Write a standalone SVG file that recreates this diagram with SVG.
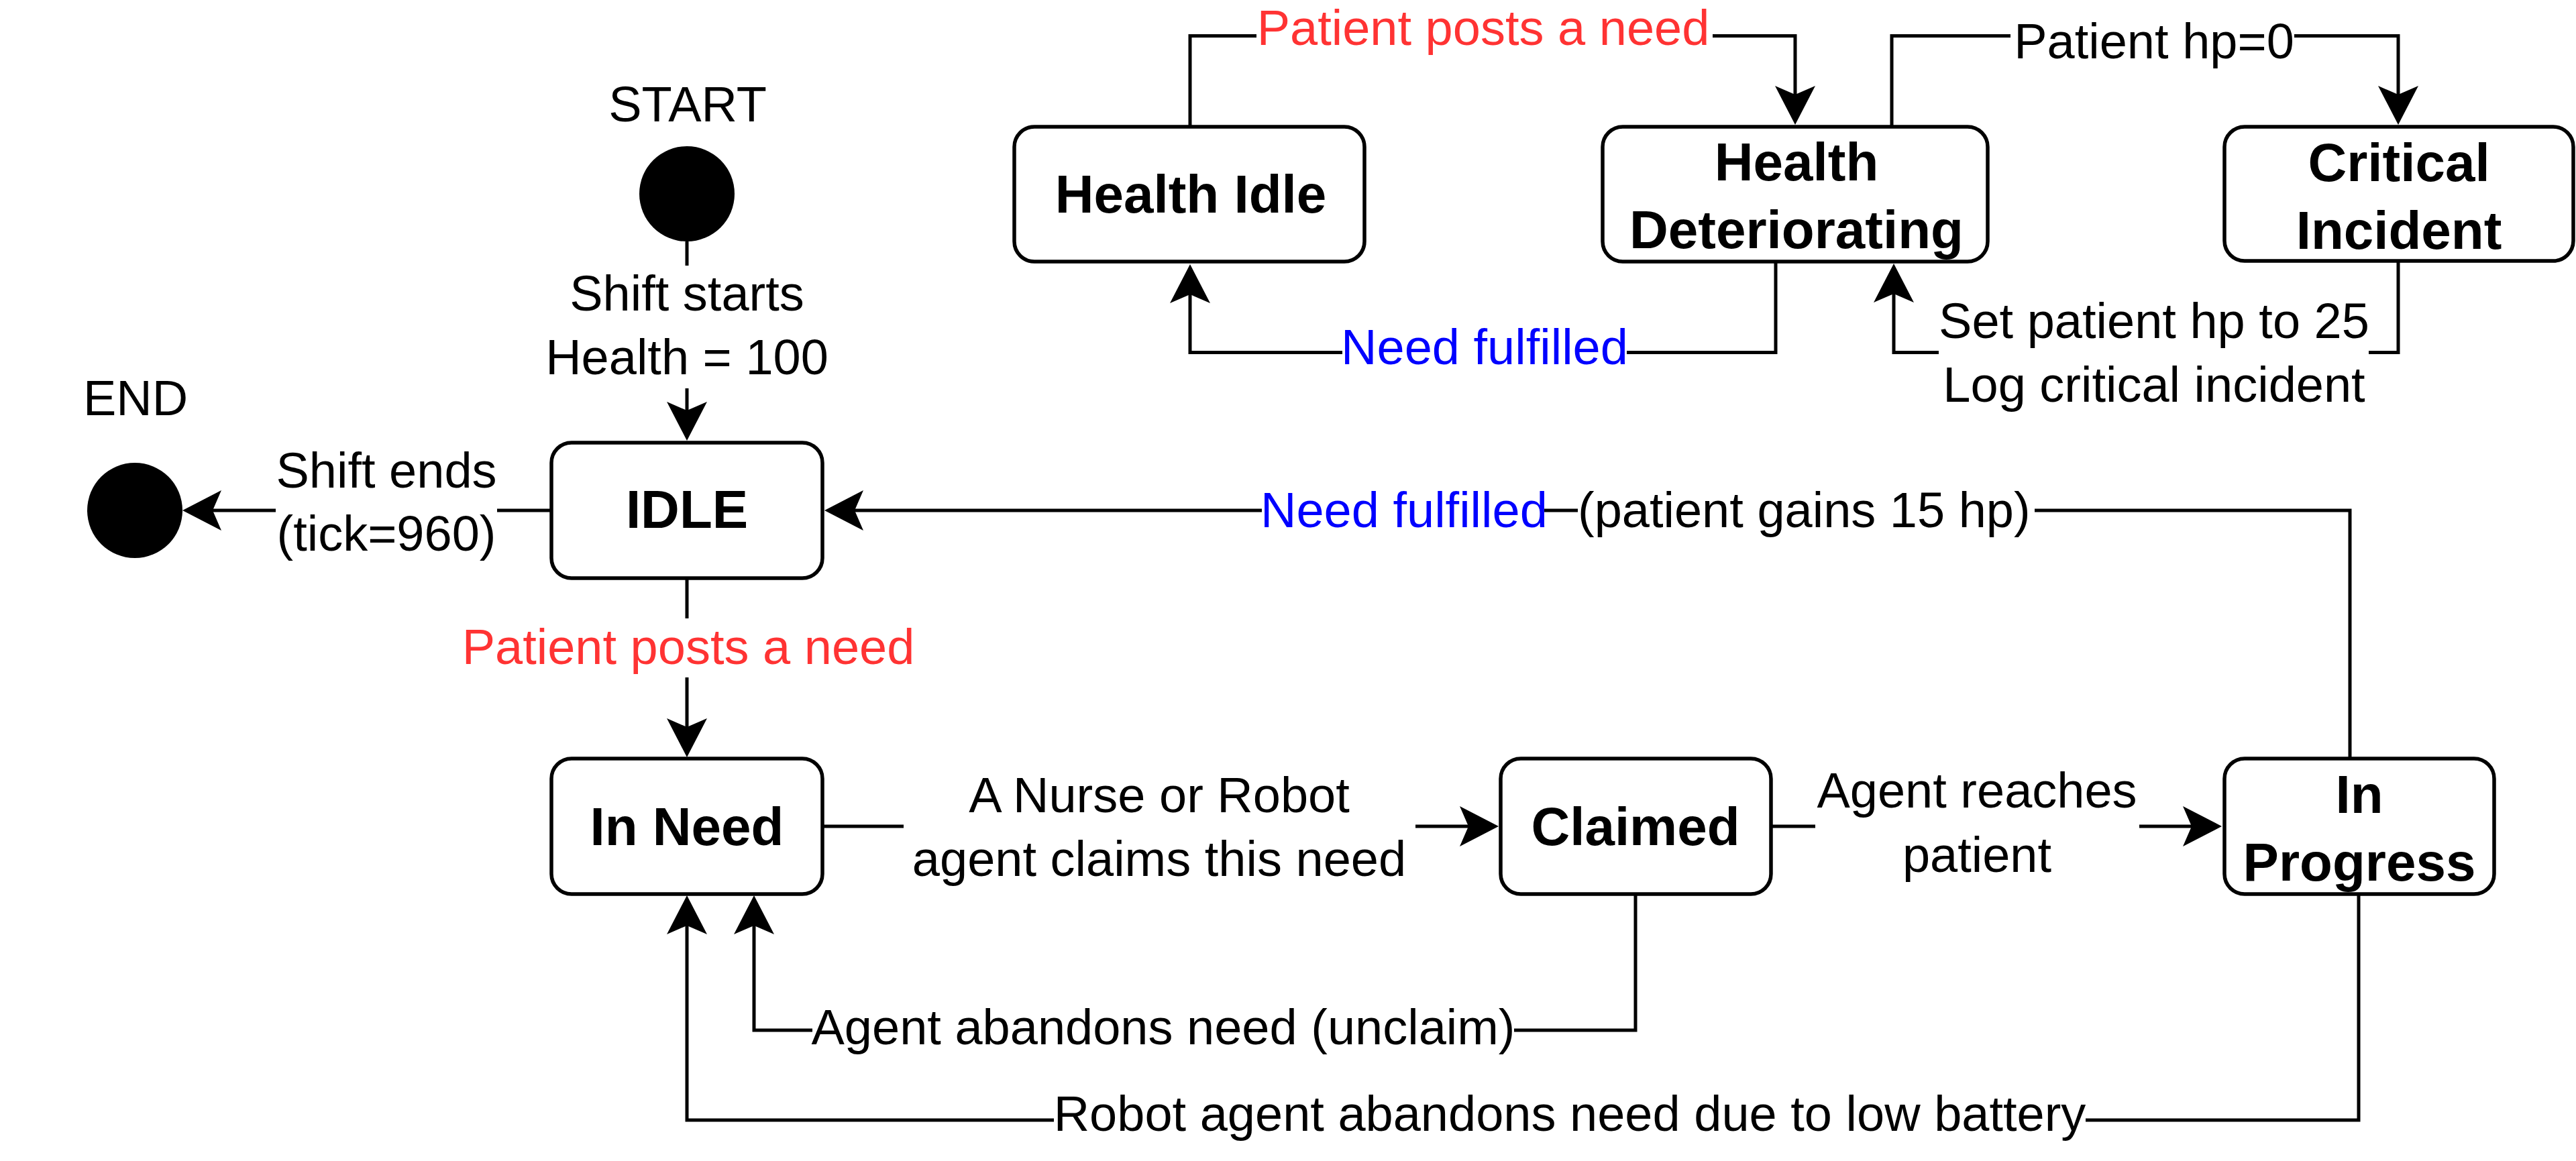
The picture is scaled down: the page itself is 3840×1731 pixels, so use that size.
<svg xmlns="http://www.w3.org/2000/svg" width="3840" height="1731" viewBox="0 0 3840 1731">
<style>
  text { font-family: "Liberation Sans", Arial, sans-serif; font-size: 74px; fill: #000; text-anchor: middle; }
  .b { font-weight: bold; font-size: 80px; }
  .red { fill: #FF3333; }
  .blue { fill: #0000FF; }
  .st { text-anchor: start; }
  .box { fill: #fff; stroke: #000; stroke-width: 5.5; }
  .dot { fill: #000; stroke: none; }
  .edge { fill: none; stroke: #000; stroke-width: 5; marker-end: url(#arr); }
</style>
<defs>
  <marker id="arr" markerUnits="userSpaceOnUse" viewBox="-2 -32 64 64" markerWidth="64" markerHeight="64" refX="0" refY="0" orient="auto" overflow="visible">
    <path d="M45,0 L-13,-30 L0,0 L-13,30 Z" fill="#000"/>
  </marker>
</defs>
<rect x="0" y="0" width="3840" height="1731" fill="#fff"/>

<g id="connectors">
  <path class="edge" d="M1024 360 V396 M1024 579 V612"/>
  <path class="edge" d="M822 761 H741 M411 761 H317"/>
  <path class="edge" d="M1024 862 V922 M1024 1010 V1084"/>
  <path class="edge" d="M3503 1131 V761 H3033 M2352 761 H2302 M1881 761 H1274"/>
  <path class="edge" d="M1226 1232 H1347 M2110 1232 H2189"/>
  <path class="edge" d="M2640 1232 H2706 M3189 1232 H3267"/>
  <path class="edge" d="M2438 1333 V1536 H2257 M1211 1536 H1124 V1380"/>
  <path class="edge" d="M3516 1333 V1670 H3109 M1571 1670 H1024 V1380"/>
  <path class="edge" d="M1774 189 V53.5 H1873 M2553 53.5 H2676 V141"/>
  <path class="edge" d="M2820 189 V53.5 H2997 M3420 53.5 H3575 V141"/>
  <path class="edge" d="M2647 390 V525.5 H2425 M2001 525.5 H1774 V439"/>
  <path class="edge" d="M3575 389 V525.5 H3531 M2890 525.5 H2823 V438"/>
</g>

<g id="labels">
  <text x="1024" y="463">Shift starts</text>
  <text x="1024" y="558">Health = 100</text>
  <text x="576" y="727">Shift ends</text>
  <text x="576" y="821">(tick=960)</text>
  <text x="1026" y="990" class="red">Patient posts a need</text>
  <text x="1879" y="786" class="blue st">Need fulfilled</text>
  <text x="2352" y="786" class="st">(patient gains 15 hp)</text>
  <text x="1728" y="1211">A Nurse or Robot</text>
  <text x="1728" y="1306">agent claims this need</text>
  <text x="2947" y="1204">Agent reaches</text>
  <text x="2947" y="1300">patient</text>
  <text x="1734" y="1557">Agent abandons need (unclaim)</text>
  <text x="2340" y="1686">Robot agent abandons need due to low battery</text>
  <text x="2211" y="67" class="red">Patient posts a need</text>
  <text x="3211" y="87">Patient hp=0</text>
  <text x="2213" y="543" class="blue">Need fulfilled</text>
  <text x="3211" y="504">Set patient hp to 25</text>
  <text x="3211" y="599">Log critical incident</text>
</g>

<g id="start">
  <text x="1025" y="181">START</text>
  <circle class="dot" cx="1024" cy="289" r="71"/>
</g>
<g id="end">
  <text x="202" y="619">END</text>
  <circle class="dot" cx="201" cy="761" r="71"/>
</g>
<g id="idle">
  <rect class="box" x="822" y="660" width="404" height="202" rx="30"/>
  <text class="b" x="1024" y="787">IDLE</text>
</g>
<g id="in-need">
  <rect class="box" x="822" y="1131" width="404" height="202" rx="30"/>
  <text class="b" x="1024" y="1260">In Need</text>
</g>
<g id="claimed">
  <rect class="box" x="2237" y="1131" width="403" height="202" rx="30"/>
  <text class="b" x="2438" y="1260">Claimed</text>
</g>
<g id="in-progress">
  <rect class="box" x="3316" y="1131" width="402" height="202" rx="30"/>
  <text class="b" x="3517" y="1212">In</text>
  <text class="b" x="3517" y="1313">Progress</text>
</g>
<g id="health-idle">
  <rect class="box" x="1512" y="189" width="522" height="201" rx="30"/>
  <text class="b" x="1775" y="317">Health Idle</text>
</g>
<g id="health-deteriorating">
  <rect class="box" x="2389" y="189" width="574" height="201" rx="30"/>
  <text class="b" x="2678" y="269">Health</text>
  <text class="b" x="2678" y="370">Deteriorating</text>
</g>
<g id="critical-incident">
  <rect class="box" x="3316" y="189" width="520" height="200" rx="30"/>
  <text class="b" x="3576" y="270">Critical</text>
  <text class="b" x="3576" y="371">Incident</text>
</g>
</svg>
